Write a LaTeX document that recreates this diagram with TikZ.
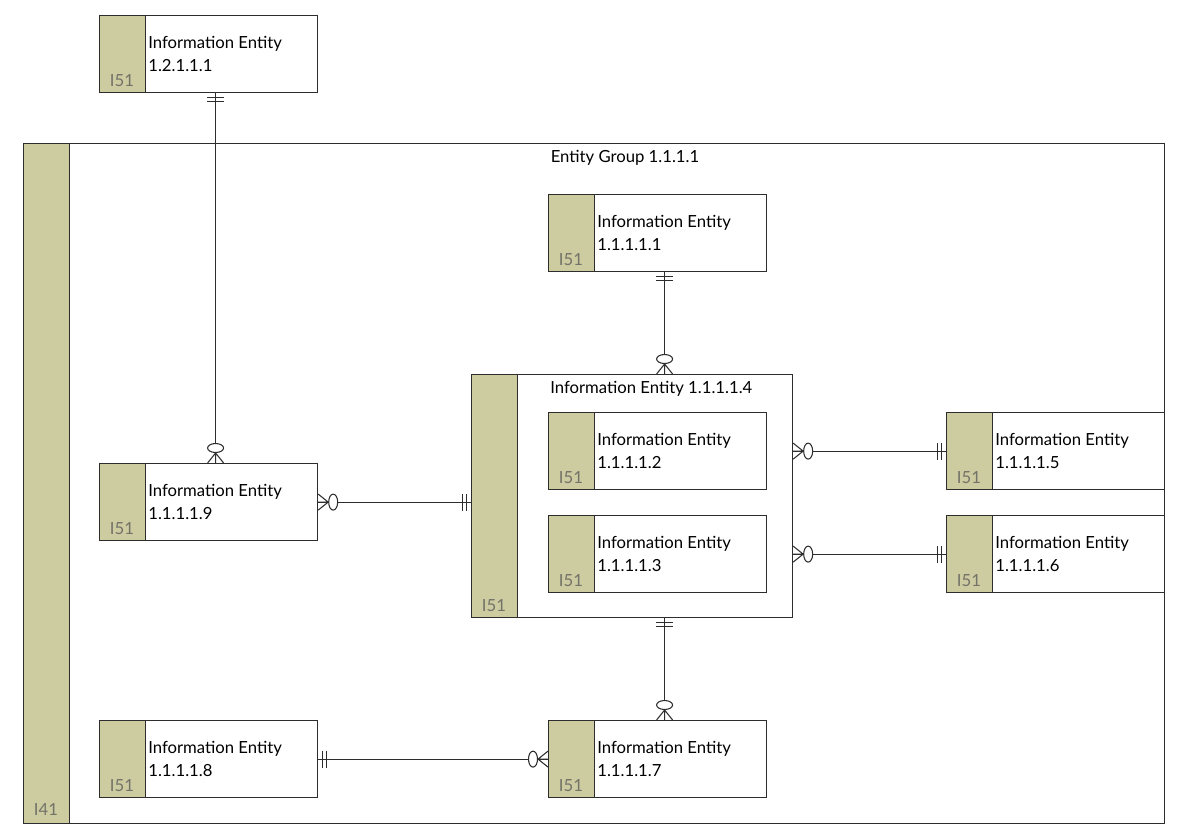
\documentclass[tikz,border=0pt]{standalone}
\usepackage{fontspec}
\setmainfont{Lato}
\definecolor{stripe}{RGB}{205,203,160}
\definecolor{edge}{RGB}{45,45,45}
\definecolor{tagtext}{RGB}{115,115,105}
\newcommand{\entity}[3]{%
\node[entity] (#1) at (#2) {};
\node[enttext] at ([xshift=0.98cm]#1.west) {Information Entity\\#3};
\node[idtag] at ([xshift=0.46cm,yshift=0.26cm]#1.south west) {I51};
}

\begin{document}
\begin{tikzpicture}[x=0.02cm,y=-0.02cm,font=\fontsize{9.5}{13}\selectfont,
  entity/.style={draw=edge,line width=0.7pt,fill=white,anchor=north west,inner sep=0pt,
    minimum width=4.36cm,minimum height=1.54cm,
    path picture={\fill[stripe] (path picture bounding box.north west) rectangle ([xshift=0.92cm]path picture bounding box.south west);
      \draw[edge,line width=0.7pt] ([xshift=0.92cm]path picture bounding box.north west) -- ([xshift=0.92cm]path picture bounding box.south west);}},
  enttext/.style={anchor=west,align=left,inner sep=0pt},
  idtag/.style={text=tagtext,inner sep=0pt},
  rel/.style={draw=edge,line width=0.6pt},
  along/.style={sloped,allow upside down},
  onlyone/.pic={\draw[rel] (4.5,-8.5) -- (4.5,8.5) (8.5,-8.5) -- (8.5,8.5);},
  zeromany/.pic={\draw[rel] (0,-8) -- (-10,0) -- (0,8) (-10,0) -- (0,0);
    \draw[rel,fill=white] (-15,0) ellipse [x radius=4.5,y radius=8];}]
\path[use as bounding box,fill=white] (0,0) rectangle (1200,836);

% outer group
\node[entity,minimum width=22.82cm,minimum height=13.6cm] (grp) at (23,143) {};
\node[idtag] at ([xshift=0.46cm,yshift=0.3cm]grp.south west) {I41};
\node (grptitle) at (625,158) {Entity Group 1.1.1.1};

\entity{e121}{99,15}{1.2.1.1.1}
\entity{e11}{548,194}{1.1.1.1.1}

% nested entity
\node[entity,minimum width=6.42cm,minimum height=4.86cm] (e14) at (471,374) {};
\node[idtag] at ([xshift=0.46cm,yshift=0.26cm]e14.south west) {I51};
\node[anchor=west,inner sep=0pt] (e14title) at (550,389) {Information Entity 1.1.1.1.4};
\entity{e12}{548,412}{1.1.1.1.2}
\entity{e13}{548,515}{1.1.1.1.3}

\entity{e15}{946,412}{1.1.1.1.5}
\entity{e16}{946,515}{1.1.1.1.6}
\entity{e19}{99,463}{1.1.1.1.9}
\entity{e18}{99,720}{1.1.1.1.8}
\entity{e17}{548,720}{1.1.1.1.7}

% relations
\draw[rel] ([xshift=0.14cm]e121.south) -- ([xshift=0.14cm]e121.south |- e19.north)
  pic[at start,along] {onlyone} pic[at end,along] {zeromany};
\draw[rel] ([xshift=0.14cm]e11.south) -- ([xshift=0.14cm]e11.south |- e14.north)
  pic[at start,along] {onlyone} pic[at end,along] {zeromany};
\draw[rel] (e19.east -| e14.west) -- (e19.east)
  pic[at start,along] {onlyone} pic[at end,along] {zeromany};
\draw[rel] (e15.west) -- (e15.west -| e14.east)
  pic[at start,along] {onlyone} pic[at end,along] {zeromany};
\draw[rel] (e16.west) -- (e16.west -| e14.east)
  pic[at start,along] {onlyone} pic[at end,along] {zeromany};
\draw[rel] ([xshift=0.14cm]e17.north |- e14.south) -- ([xshift=0.14cm]e17.north)
  pic[at start,along] {onlyone} pic[at end,along] {zeromany};
\draw[rel] (e18.east) -- (e17.west)
  pic[at start,along] {onlyone} pic[at end,along] {zeromany};
\end{tikzpicture}
\end{document}
